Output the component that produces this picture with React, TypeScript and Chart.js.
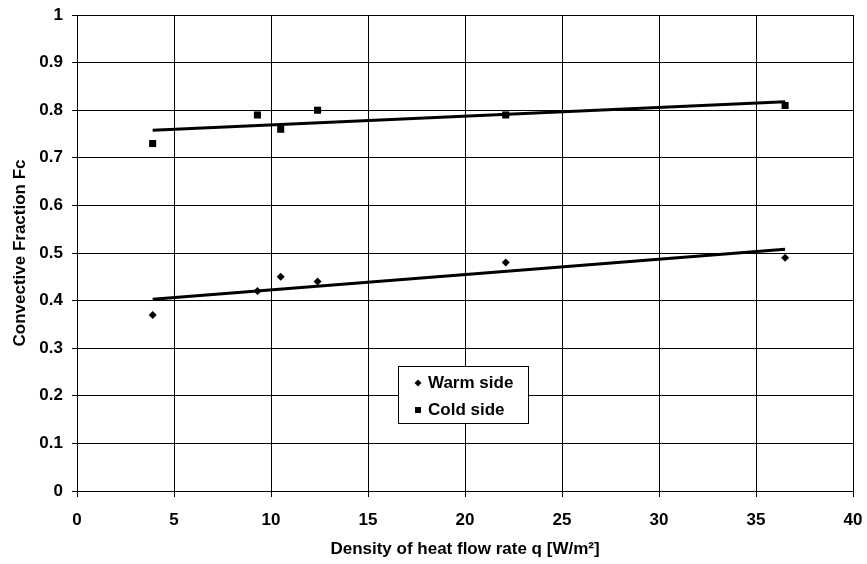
import React, { useEffect, useRef } from "react";
import { Chart, registerables } from "chart.js";

Chart.register(...registerables);

const qValues = [3.9, 9.3, 10.5, 12.4, 22.1, 36.5];
const warmSide = [0.37, 0.42, 0.45, 0.44, 0.48, 0.49];
const coldSide = [0.73, 0.79, 0.76, 0.8, 0.79, 0.81];
const trendX = [3.9, 36.5];
const warmTrend = [0.403, 0.508];
const coldTrend = [0.758, 0.818];
const legendLabels = ["Warm side", "Cold side"];
const xTitle = "Density of heat flow rate q [W/m²]";
const yTitle = "Convective Fraction Fc";

const FONT = "'Liberation Sans', Arial, Helvetica, sans-serif";

const legendPlugin = {
  id: "boxLegend",
  afterDraw(chart: any) {
    const ctx = chart.ctx;
    const area = chart.chartArea;
    const x0 = Math.round(area.left + 321);
    const y0 = Math.round(area.top + 351);
    const w = 130;
    const h = 57;
    ctx.save();
    ctx.fillStyle = "#fff";
    ctx.fillRect(x0, y0, w, h);
    ctx.strokeStyle = "#000";
    ctx.lineWidth = 1;
    ctx.strokeRect(x0 + 0.5, y0 + 0.5, w, h);
    ctx.font = `bold 17px ${FONT}`;
    ctx.textBaseline = "middle";
    ctx.fillStyle = "#000";
    const rows = [y0 + 17, y0 + 44];
    const mx = x0 + 20;
    ctx.beginPath();
    ctx.moveTo(mx, rows[0] - 3.5);
    ctx.lineTo(mx + 3.5, rows[0]);
    ctx.lineTo(mx, rows[0] + 3.5);
    ctx.lineTo(mx - 3.5, rows[0]);
    ctx.closePath();
    ctx.fill();
    ctx.fillRect(mx - 3, rows[1] - 3, 6, 6);
    ctx.fillText(legendLabels[0], x0 + 30, rows[0]);
    ctx.fillText(legendLabels[1], x0 + 30, rows[1]);
    ctx.restore();
  },
};

export default function App() {
  const ref = useRef<HTMLCanvasElement>(null);
  useEffect(() => {
    document.body.style.margin = "0";
    const chart = new Chart(ref.current!, {
      type: "scatter",
      data: {
        datasets: [
          {
            label: legendLabels[0],
            data: qValues.map((x, i) => ({ x, y: warmSide[i] })),
            pointStyle: "rectRot",
            pointRadius: 4,
            backgroundColor: "#000",
            borderColor: "#000",
            borderWidth: 0,
          },
          {
            label: legendLabels[1],
            data: qValues.map((x, i) => ({ x, y: coldSide[i] })),
            pointStyle: "rect",
            pointRadius: 5,
            backgroundColor: "#000",
            borderColor: "#000",
            borderWidth: 0,
          },
          {
            label: "warm trend",
            data: trendX.map((x, i) => ({ x, y: warmTrend[i] })),
            showLine: true,
            pointRadius: 0,
            borderColor: "#000",
            borderWidth: 3,
          },
          {
            label: "cold trend",
            data: trendX.map((x, i) => ({ x, y: coldTrend[i] })),
            showLine: true,
            pointRadius: 0,
            borderColor: "#000",
            borderWidth: 3,
          },
        ],
      },
      options: {
        animation: false,
        responsive: false,
        layout: { padding: { top: 15, right: 14, left: 10, bottom: 4 } },
        plugins: { legend: { display: false }, tooltip: { enabled: false } },
        scales: {
          x: {
            type: "linear",
            min: 0,
            max: 40,
            afterFit: (s: any) => {
              s.height = 69;
              s.paddingLeft = 0;
              s.paddingRight = 0;
            },
            ticks: {
              stepSize: 5,
              color: "#000",
              font: { family: FONT, size: 17, weight: "bold" },
              padding: 13,
            },
            grid: { color: "#000", tickLength: 6, lineWidth: 1 },
            border: { color: "#000" },
            title: {
              display: true,
              text: xTitle,
              color: "#000",
              font: { family: FONT, size: 17, weight: "bold" },
              padding: { top: 0, bottom: 0 },
            },
          },
          y: {
            type: "linear",
            min: 0,
            max: 1,
            afterFit: (s: any) => {
              s.width = 67;
              s.paddingTop = 0;
              s.paddingBottom = 0;
            },
            ticks: {
              stepSize: 0.1,
              color: "#000",
              font: { family: FONT, size: 17, weight: "bold" },
              padding: 9,
              callback: (v: any) => String(Number(Number(v).toFixed(1))),
            },
            grid: { color: "#000", tickLength: 5, lineWidth: 1 },
            border: { color: "#000" },
            title: {
              display: true,
              text: yTitle,
              color: "#000",
              font: { family: FONT, size: 17, weight: "bold" },
              padding: { top: 0, bottom: 0 },
            },
          },
        },
      },
      plugins: [legendPlugin],
    });
    return () => chart.destroy();
  }, []);
  return (
    <div style={{ width: 867, height: 564, background: "#fff" }}>
      <canvas ref={ref} width={867} height={564} />
    </div>
  );
}
